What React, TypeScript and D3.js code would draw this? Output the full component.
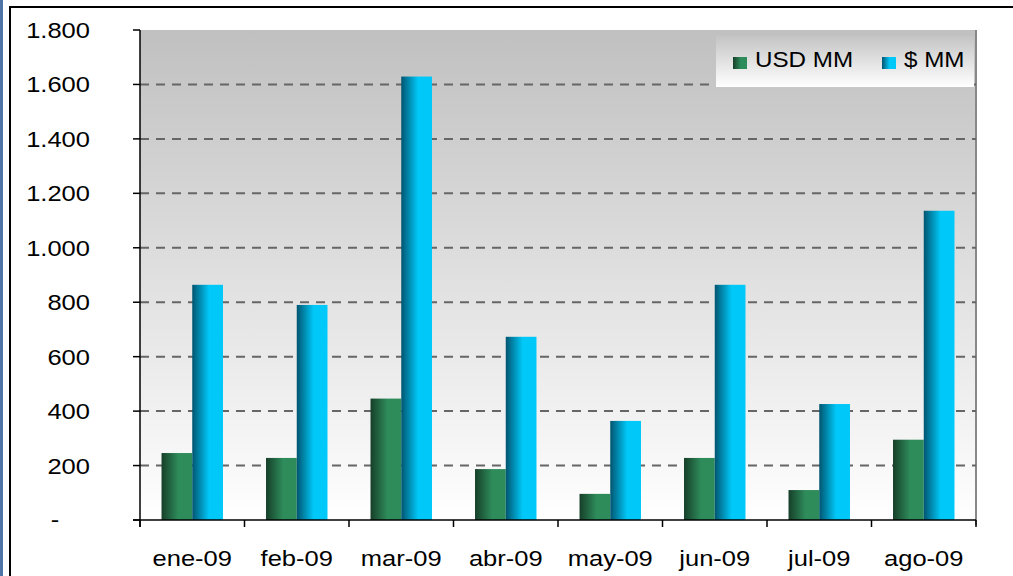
import React, { useEffect, useRef } from 'react';
import * as d3 from 'd3';

const months = ['ene-09', 'feb-09', 'mar-09', 'abr-09', 'may-09', 'jun-09', 'jul-09', 'ago-09'];
const usdValues = [246, 228, 446, 187, 96, 228, 110, 295];
const pesoValues = [864, 790, 1629, 673, 364, 864, 426, 1136];
const seriesNames = ['USD MM', '$ MM'];
const yTicks = [0, 200, 400, 600, 800, 1000, 1200, 1400, 1600, 1800];

const W = 1013;
const H = 576;
const FONT = 'Liberation Sans, Arial, sans-serif';

const App = () => {
    const ref = useRef<SVGSVGElement>(null);

    useEffect(() => {
        const svg = d3.select(ref.current);
        svg.selectAll('*').remove();

        const left = 140, right = 976, top = 30, bottom = 520;

        const defs = svg.append('defs');
        const bg = defs.append('linearGradient').attr('id', 'bg').attr('x1', 0).attr('y1', 0).attr('x2', 0).attr('y2', 1);
        bg.append('stop').attr('offset', '0%').attr('stop-color', '#c0c0c0');
        bg.append('stop').attr('offset', '100%').attr('stop-color', '#ffffff');

        const lg = defs.append('linearGradient').attr('id', 'lg').attr('x1', 0).attr('y1', 0).attr('x2', 0).attr('y2', 1);
        lg.append('stop').attr('offset', '0%').attr('stop-color', '#c4c4c4');
        lg.append('stop').attr('offset', '100%').attr('stop-color', '#ffffff');

        // horizontal bar gradients
        const gradColors = [['#163f29', '#2e8b5a'], ['#005570', '#00c8f8']];
        gradColors.forEach((c, i) => {
            const g = defs.append('linearGradient').attr('id', 'bar' + i);
            g.append('stop').attr('offset', '0%').attr('stop-color', c[0]);
            g.append('stop').attr('offset', '55%').attr('stop-color', c[1]);
            g.append('stop').attr('offset', '100%').attr('stop-color', c[1]);
        });

        // text stretched horizontally like the original picture
        const label = (g: any, x: number, y: number, t: string, anchor: string, sx: number) =>
            g.append('text')
                .attr('transform', `translate(${x},${y}) scale(${sx},1)`)
                .attr('text-anchor', anchor)
                .attr('font-family', FONT).attr('font-size', 22).attr('fill', '#000')
                .text(t);

        // page frame
        svg.append('rect').attr('x', 0).attr('y', 0).attr('width', W).attr('height', H).attr('fill', '#ffffff');
        svg.append('rect').attr('x', 0).attr('y', 0).attr('width', 3).attr('height', H).attr('fill', '#4f74a8');
        svg.append('rect').attr('x', 10).attr('y', 7).attr('width', W + 10).attr('height', H + 10)
            .attr('fill', 'none').attr('stroke', '#000').attr('stroke-width', 2);

        const x = d3.scaleBand().domain(months).range([left, right]);
        const y = d3.scaleLinear().domain([0, 1800]).range([bottom, top]);

        svg.append('rect').attr('x', left).attr('y', top).attr('width', right - left).attr('height', bottom - top)
            .attr('fill', 'url(#bg)');
        svg.append('line').attr('x1', right).attr('x2', right).attr('y1', top).attr('y2', bottom + 5)
            .attr('stroke', '#888').attr('stroke-width', 2);

        // gridlines
        svg.append('g').selectAll('line').data(yTicks.filter(d => d > 0 && d < 1800)).join('line')
            .attr('x1', left).attr('x2', right)
            .attr('y1', d => y(d)).attr('y2', d => y(d))
            .attr('stroke', '#666').attr('stroke-width', 2).attr('stroke-dasharray', '9,7');

        // bars
        const inner = d3.scaleBand().domain(['0', '1']).range([0, x.bandwidth()]).paddingOuter(0.7).paddingInner(0);
        const data = [usdValues, pesoValues];
        data.forEach((vals, si) => {
            svg.append('g').selectAll('rect').data(vals).join('rect')
                .attr('x', (d, i) => (x(months[i]) as number) + (inner(String(si)) as number))
                .attr('y', d => y(d))
                .attr('width', inner.bandwidth())
                .attr('height', d => bottom - y(d))
                .attr('fill', `url(#bar${si})`);
        });

        // y axis
        const yAxis = svg.append('g');
        yAxis.append('line').attr('x1', left).attr('x2', left).attr('y1', top).attr('y2', bottom + 7)
            .attr('stroke', '#000').attr('stroke-width', 1.5);
        yAxis.selectAll('line.tk').data(yTicks).join('line').attr('class', 'tk')
            .attr('x1', left - 7).attr('x2', left).attr('y1', d => y(d)).attr('y2', d => y(d))
            .attr('stroke', '#000').attr('stroke-width', 1.5);
        yTicks.forEach(d => {
            if (d === 0) label(yAxis, 55, y(d) + 7, '-', 'middle', 1.16);
            else label(yAxis, 90, y(d) + 8, d3.format(',')(d).replace(/,/g, '.'), 'end', 1.16);
        });

        // x axis
        const xAxis = svg.append('g').attr('transform', `translate(0,${bottom})`);
        xAxis.append('line').attr('x1', left - 7).attr('x2', right).attr('stroke', '#000').attr('stroke-width', 1.5);
        xAxis.selectAll('line.tk').data(d3.range(months.length + 1)).join('line').attr('class', 'tk')
            .attr('x1', i => left + i * x.step()).attr('x2', i => left + i * x.step())
            .attr('y1', 0).attr('y2', 7).attr('stroke', '#000').attr('stroke-width', 1.5);
        months.forEach(m => label(xAxis, (x(m) as number) + x.bandwidth() / 2, 46, m, 'middle', 1.16));

        // legend
        const leg = svg.append('g').attr('transform', 'translate(716,36)');
        leg.append('rect').attr('width', 258).attr('height', 51).attr('fill', 'url(#lg)');
        const legX = [17, 166];
        seriesNames.forEach((n, i) => {
            leg.append('rect').attr('x', legX[i]).attr('y', 21).attr('width', 14).attr('height', 12).attr('fill', `url(#bar${i})`);
            label(leg, legX[i] + 22, 31, n, 'start', 1.1);
        });
    }, []);

    return (
        <div style={{ position: 'fixed', left: 0, top: 0 }}>
            <svg ref={ref} width={W} height={H} style={{ display: 'block' }}></svg>
        </div>
    );
};

export default App;
